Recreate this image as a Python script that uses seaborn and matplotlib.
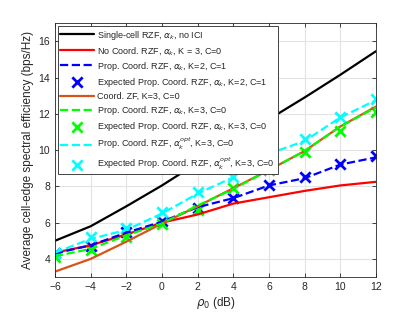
import matplotlib
matplotlib.use('Agg')
import matplotlib.pyplot as plt
import seaborn as sns
import numpy as np

# x axis: rho_0 in dB
rho = [-6, -4, -2, 0, 2, 4, 6, 8, 10, 12]

# series
single_cell = [5.0, 5.8, 6.9, 8.05, 9.3, 10.5, 11.7, 12.9, 14.15, 15.45]
no_coord = [4.35, 4.75, 5.35, 6.0, 6.45, 7.05, 7.4, 7.75, 8.05, 8.25]
prop_k2 = [4.3, 4.75, 5.45, 6.05, 6.85, 7.35, 8.05, 8.45, 9.2, 9.6]
exp_k2 = [4.3, 4.7, 5.5, 6.1, 6.8, 7.35, 8.05, 8.5, 9.25, 9.65]
coord_zf = [3.3, 4.0, 4.95, 5.95, 6.9, 7.9, 8.9, 9.95, 11.3, 12.4]
prop_k3 = [4.15, 4.55, 5.3, 5.95, 6.95, 7.85, 8.9, 9.95, 11.3, 12.35]
exp_k3 = [4.1, 4.5, 5.2, 5.9, 6.7, 7.9, 8.9, 9.9, 11.05, 12.1]
prop_opt = [4.35, 5.1, 5.6, 6.5, 7.6, 8.5, 9.8, 10.5, 11.8, 12.75]
exp_opt = [4.3, 5.2, 5.7, 6.6, 7.7, 8.5, 9.8, 10.6, 11.8, 12.8]

sns.set_theme(style='ticks')
plt.rcParams['font.family'] = ['Liberation Sans', 'DejaVu Sans']
plt.rcParams['mathtext.fontset'] = 'dejavusans'

fig = plt.figure(figsize=(4.15, 3.12), dpi=100)
ax = fig.add_axes([0.1325, 0.112, 0.7735, 0.814])

lw = 1.6
sns.lineplot(x=rho, y=single_cell, color='black', lw=lw, ax=ax,
             label=r'Single-cell RZF, $\alpha_k$, no ICI')
sns.lineplot(x=rho, y=no_coord, color='#ff0000', lw=lw, ax=ax,
             label=r'No Coord. RZF, $\alpha_k$, K = 3, C=0')
sns.lineplot(x=rho, y=prop_k2, color='#0000ff', lw=lw, ls='--', dashes=(3, 2.2), ax=ax,
             label=r'Prop. Coord. RZF, $\alpha_k$, K=2, C=1')
sns.scatterplot(x=rho, y=exp_k2, color='#0000ff', marker='x', s=55, linewidth=2, ax=ax,
                label=r'Expected Prop. Coord. RZF, $\alpha_k$, K=2, C=1')
sns.lineplot(x=rho, y=coord_zf, color='#d95319', lw=lw, ax=ax,
             label='Coord. ZF, K=3, C=0')
sns.lineplot(x=rho, y=prop_k3, color='#00ff00', lw=lw, ls='--', dashes=(3, 2.2), ax=ax,
             label=r'Prop. Coord. RZF, $\alpha_k$, K=3, C=0')
sns.scatterplot(x=rho, y=exp_k3, color='#00ff00', marker='x', s=55, linewidth=2, ax=ax,
                label=r'Expected Prop. Coord. RZF, $\alpha_k$, K=3, C=0')
sns.lineplot(x=rho, y=prop_opt, color='#00ffff', lw=lw, ls='--', dashes=(3, 2.2), ax=ax,
             label=r'Prop. Coord. RZF, $\alpha_k^{opt}$, K=3, C=0')
sns.scatterplot(x=rho, y=exp_opt, color='#00ffff', marker='x', s=55, linewidth=2, ax=ax,
                label=r'Expected Prop. Coord. RZF, $\alpha_k^{opt}$, K=3, C=0')

ax.set_xlim(-6, 12)
ax.set_ylim(3, 17)
ax.set_xticks(rho)
ax.set_yticks([4, 6, 8, 10, 12, 14, 16])
ax.grid(True, color='#e3e3e3', lw=0.8)
ax.set_axisbelow(True)
ax.tick_params(direction='in', length=3, width=0.6, labelsize=7.5, colors='#262626',
               top=True, right=True)
for sp in ax.spines.values():
    sp.set_visible(True)
    sp.set_color('#262626')
    sp.set_linewidth(0.6)

ax.set_xlabel(r'$\rho_0$ (dB)', fontsize=8.5, color='#262626', labelpad=2)
ax.set_ylabel('Average cell-edge spectral efficiency (bps/Hz)', fontsize=8.5,
              color='#262626', labelpad=3)

leg = ax.legend(loc='upper left', fontsize=6.5, handlelength=3.7, labelspacing=0.34,
                borderaxespad=0.3, borderpad=0.3, handletextpad=0.4,
                fancybox=False, framealpha=1, edgecolor='#262626')
leg.get_frame().set_linewidth(0.6)

fig.savefig('out.png', dpi=100)
